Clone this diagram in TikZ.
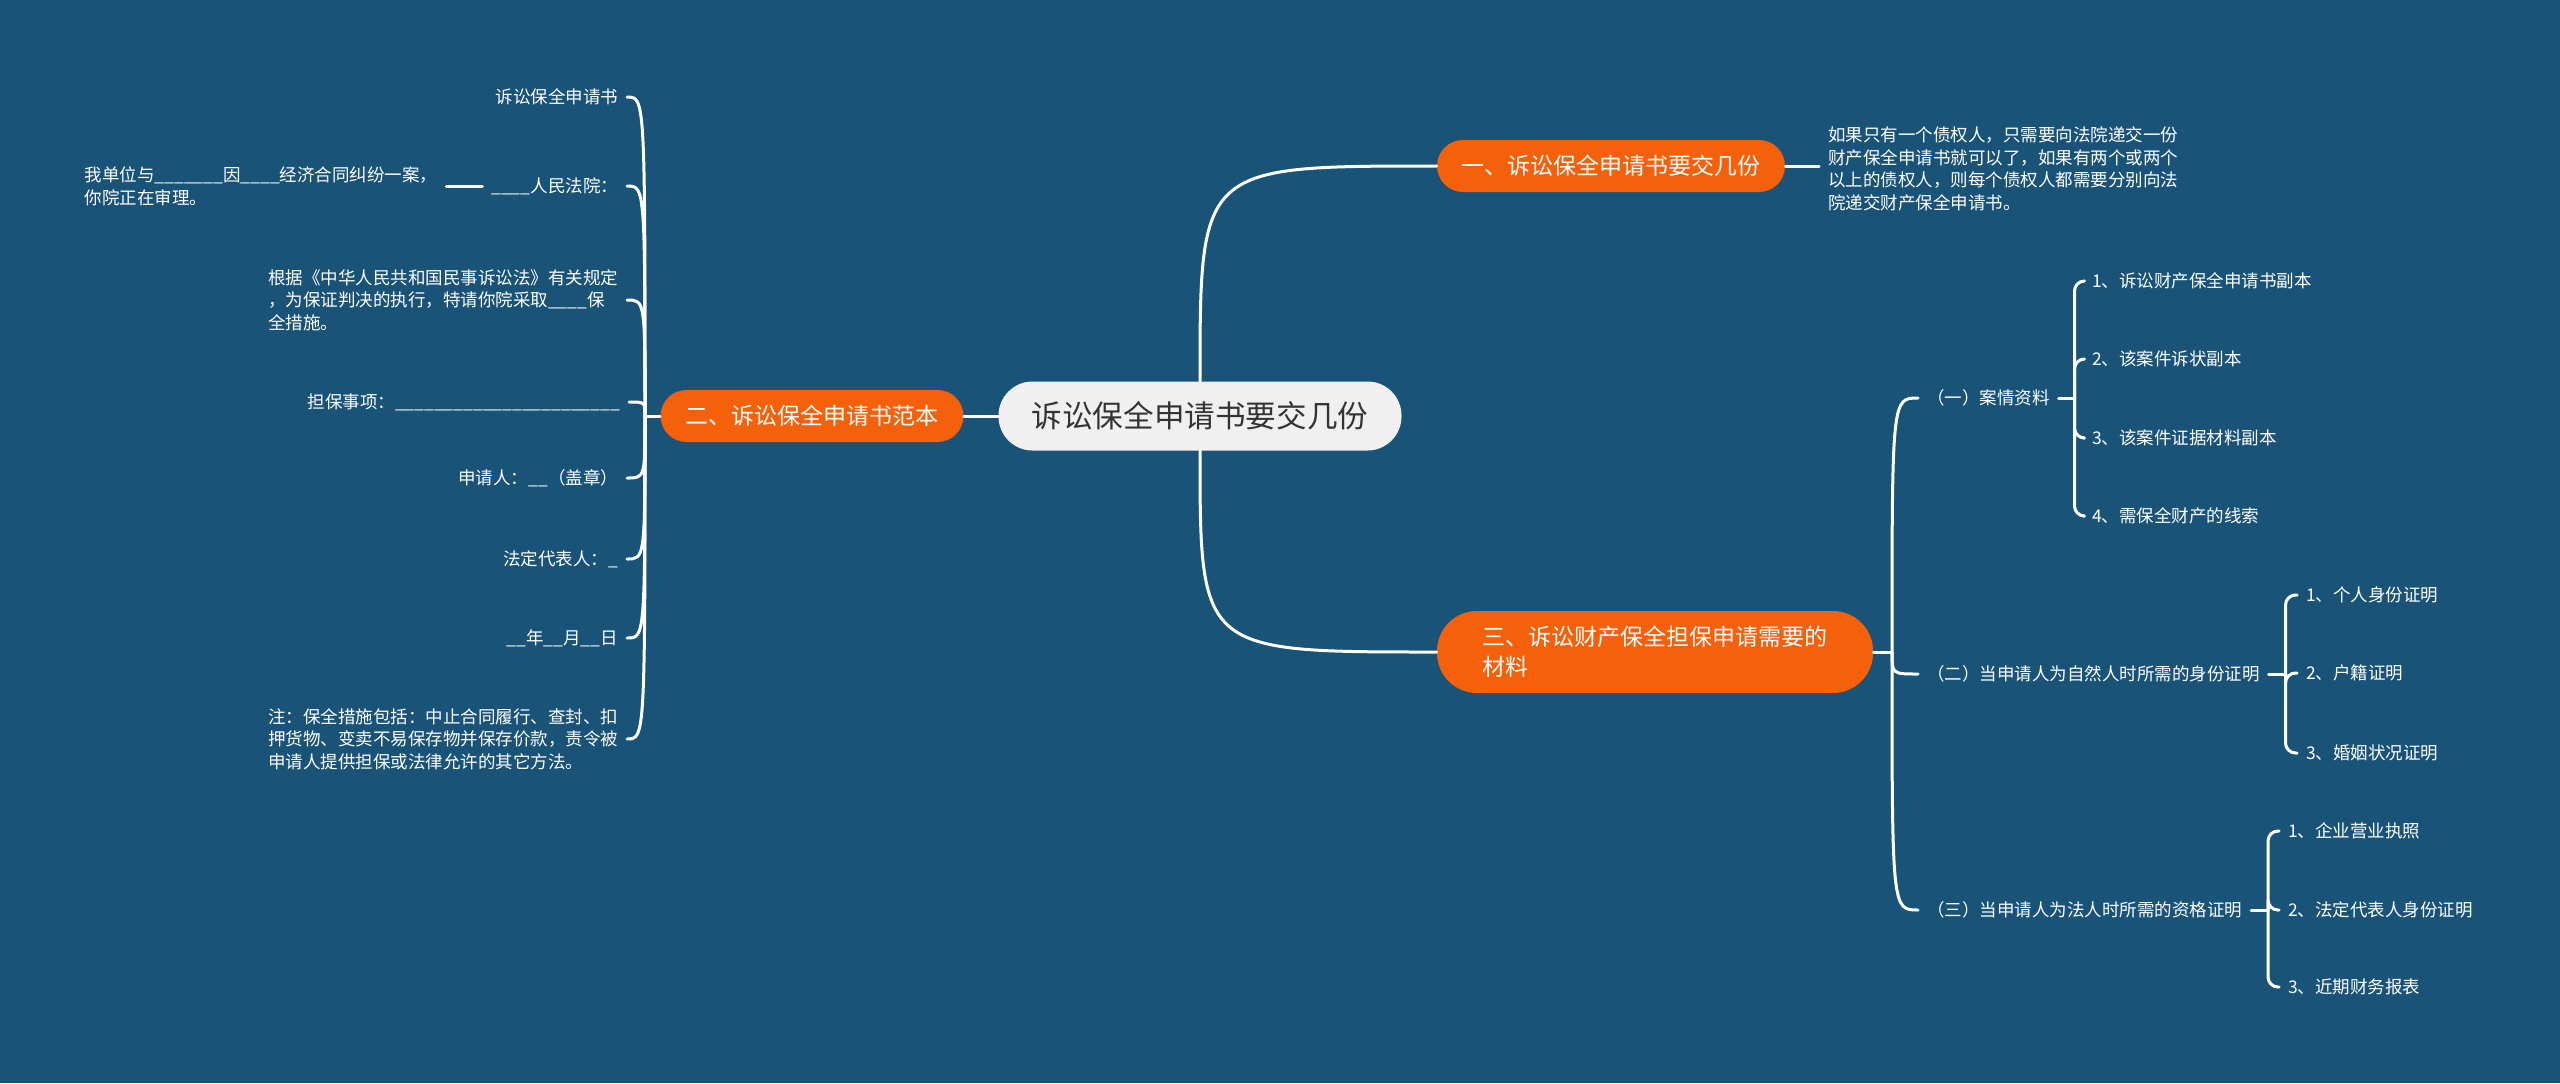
\documentclass[tikz,border=0pt]{standalone}
\usepackage{fontspec}
\newfontfamily\cjk{Noto Sans CJK SC}
\usepackage{tikz}
\usetikzlibrary{positioning,calc}
\definecolor{bg}{HTML}{1A5378}
\definecolor{hot}{HTML}{F5600B}
\definecolor{pale}{HTML}{F0F0F0}
\definecolor{ink}{HTML}{333333}
\tikzset{
  link/.style={draw=white, line width=1.5pt, line cap=round, line join=round},
  hub/.style={fill=pale, text=ink, rounded corners=17pt, minimum width=201.5pt, minimum height=34.5pt, inner sep=0pt, font=\cjk\fontsize{15.3}{19}\selectfont},
  topic/.style={fill=hot, text=white, rounded corners=13pt, minimum height=26pt, inner sep=0pt, font=\cjk\fontsize{11.5}{15}\selectfont},
  leaf/.style={text=white, inner sep=0pt, outer xsep=4.5pt, font=\cjk\fontsize{8.75}{11.3}\selectfont},
}

\begin{document}
\begin{tikzpicture}[x=0.5pt, y=-0.5pt]
  \fill[bg] (0,0) rectangle (2560,1083);
  % centre and the three topics
  \node[hub] (root) at (1200,416) {诉讼保全申请书要交几份};
  \node[topic, minimum width=174pt] (t1) at (1611,166) {一、诉讼保全申请书要交几份};
  \node[topic, minimum width=151.5pt] (t2) at (812,416) {二、诉讼保全申请书范本};
  \node[topic, minimum width=218pt, minimum height=41pt, rounded corners=20pt, align=left] (t3) at (1655,652) {三、诉讼财产保全担保申请需要的\\材料};
  \draw[link] (root.west) -- (t2.east);
  \draw[link] (root.north) .. controls (root.north |- t1.west) .. (t1.west);
  \draw[link] (root.south) .. controls (root.south |- t3.west) .. (t3.west);

  % topic one
  \node[leaf, anchor=west, align=left] (t1n) at (1819,169) {如果只有一个债权人，只需要向法院递交一份\\财产保全申请书就可以了，如果有两个或两个\\以上的债权人，则每个债权人都需要分别向法\\院递交财产保全申请书。};
  \draw[link] (t1.east) -- (t1.east -| t1n.west);

  % topic two: the form
  \coordinate (t2s) at (645,416);
  \node[leaf, anchor=east] (f1) at (627,97) {诉讼保全申请书};
  \node[leaf, anchor=east] (f2) at (627,186) {\_\_\_\_人民法院：};
  \node[leaf, left=18pt of f2, align=left] (f2a) {我单位与\_\_\_\_\_\_\_因\_\_\_\_经济合同纠纷一案，\\你院正在审理。};
  \node[leaf, anchor=east, align=left] (f3) at (627,300) {根据《中华人民共和国民事诉讼法》有关规定\\，为保证判决的执行，特请你院采取\_\_\_\_保\\全措施。};
  \node[leaf, anchor=east] (f4) at (629,402) {担保事项：\_\_\_\_\_\_\_\_\_\_\_\_\_\_\_\_\_\_\_\_\_\_\_};
  \node[leaf, anchor=east] (f5) at (627,478) {申请人：\_\_（盖章）};
  \node[leaf, anchor=east] (f6) at (627,559) {法定代表人：\_};
  \node[leaf, anchor=east] (f7) at (627,638) {\_\_年\_\_月\_\_日};
  \node[leaf, anchor=east, align=left] (f8) at (627,739) {注：保全措施包括：中止合同履行、查封、扣\\押货物、变卖不易保存物并保存价款，责令被\\申请人提供担保或法律允许的其它方法。};
  \draw[link] (t2.west) -- (t2s);
  \foreach \f in {f1,f2,f3,f4,f5,f6,f7,f8}
    \draw[link] (t2s) .. controls (t2s |- \f.east) .. (\f.east);
  \draw[link] (f2.west) -- (f2a.east);

  % topic three
  \coordinate (t3s) at (1892,652);
  \node[leaf, anchor=west] (g1) at (1918,398) {（一）案情资料};
  \node[leaf, anchor=west] (g2) at (1918,674) {（二）当申请人为自然人时所需的身份证明};
  \node[leaf, anchor=west] (g3) at (1918,910) {（三）当申请人为法人时所需的资格证明};
  \draw[link] (t3.east) -- (t3s);
  \foreach \g in {g1,g2,g3}
    \draw[link] (t3s) .. controls (t3s |- \g.west) .. (\g.west);

  \coordinate (g1s) at ([xshift=8pt]g1.east);
  \coordinate (g2s) at ([xshift=8.5pt]g2.east);
  \coordinate (g3s) at ([xshift=8.5pt]g3.east);
  \node[leaf, anchor=west] (h11) at (2083,281) {1、诉讼财产保全申请书副本};
  \node[leaf, anchor=west] (h12) at (2083,359) {2、该案件诉状副本};
  \node[leaf, anchor=west] (h13) at (2083,438) {3、该案件证据材料副本};
  \node[leaf, anchor=west] (h14) at (2083,516) {4、需保全财产的线索};
  \node[leaf, anchor=west] (h21) at (2297,595) {1、个人身份证明};
  \node[leaf, anchor=west] (h22) at (2297,673) {2、户籍证明};
  \node[leaf, anchor=west] (h23) at (2297,753) {3、婚姻状况证明};
  \node[leaf, anchor=west] (h31) at (2279,831) {1、企业营业执照};
  \node[leaf, anchor=west] (h32) at (2279,910) {2、法定代表人身份证明};
  \node[leaf, anchor=west] (h33) at (2279,987) {3、近期财务报表};
  \draw[link] (g1.east) -- (g1s);
  \draw[link] (g2.east) -- (g2s);
  \draw[link] (g3.east) -- (g3s);
  \foreach \h in {h11,h12,h13,h14}
    \draw[link, rounded corners=5pt] (g1s) |- (\h.west);
  \foreach \h in {h21,h22,h23}
    \draw[link, rounded corners=5pt] (g2s) |- (\h.west);
  \foreach \h in {h31,h32,h33}
    \draw[link, rounded corners=5pt] (g3s) |- (\h.west);
\end{tikzpicture}
\end{document}
